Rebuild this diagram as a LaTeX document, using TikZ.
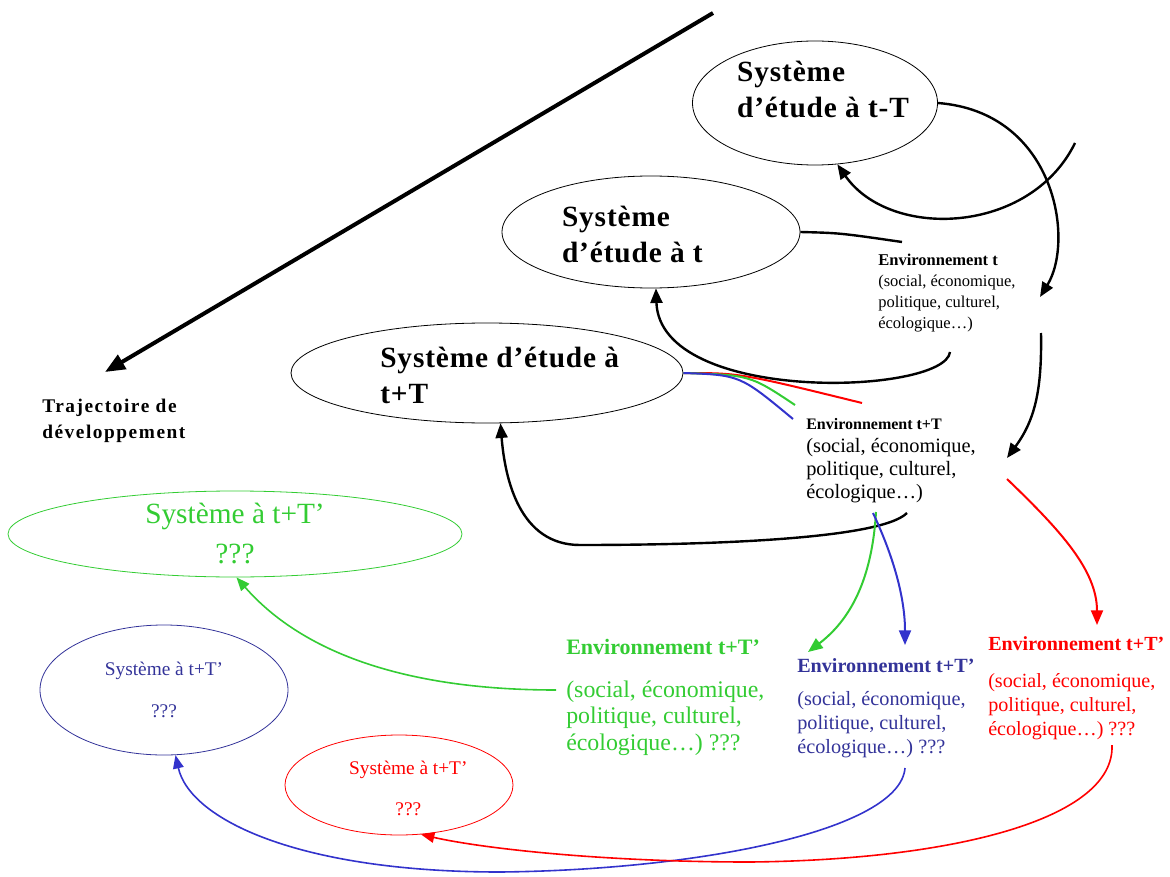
\documentclass[tikz,border=0pt]{standalone}
\usepackage{fontspec}
\setmainfont{Liberation Serif}
\newfontfamily\trajfont[LetterSpace=8]{Liberation Serif}
\newfontfamily\grandfont[LetterSpace=3]{Liberation Serif}
\usetikzlibrary{shapes.geometric, arrows.meta}

\definecolor{vert}{RGB}{51,204,51}
\definecolor{bleu}{RGB}{51,51,204}
\definecolor{marine}{RGB}{51,51,153}
\definecolor{rouge}{RGB}{255,0,0}

\newcommand{\bloc}[3]{\raisebox{#2}[0pt][0pt]{\makebox[0pt]{\hspace*{#1}\begin{tabular}{@{}l@{}}#3\end{tabular}}}}

\tikzset{
	systeme/.style={draw, ellipse, inner sep=0pt, line width=0.6pt},
	grand/.style={font=\fontsize{22}{27}\grandfont\bfseries},
	milieu/.style={inner sep=0pt, anchor=north west, align=left},
	fleche/.style={line width=1.8pt, -{Triangle[length=11pt, width=9pt]}},
	trait/.style={line width=1.8pt},
	branche/.style={line width=1.5pt, -{Triangle[length=11pt, width=9pt]}},
	retour/.style={line width=1.2pt, -{Triangle[length=10pt, width=8pt]}},
}

\begin{document}
\begin{tikzpicture}[x=0.75pt, y=-0.75pt]
	\useasboundingbox (0,0) rectangle (1170,877);

	\node[systeme, grand, minimum width=183.75pt, minimum height=93pt] (tmT) at (815,103) {\bloc{12pt}{3pt}{Système\\d’étude à t-T}};
	\node[systeme, grand, minimum width=223.5pt, minimum height=84pt] (t) at (651,232) {\bloc{-28pt}{-9pt}{Système\\d’étude à t}};
	\node[systeme, grand, minimum width=294pt, minimum height=75pt] (tT) at (487,373) {\bloc{19pt}{-9.4pt}{Système d’étude à\\t+T}};

	\node[systeme, draw=vert, text=vert, align=center, font=\fontsize{22}{30}\selectfont, minimum width=340.5pt, minimum height=58.5pt] (gT) at (235,534) {Système à t+T’\\???};
	\node[systeme, draw=marine, text=marine, align=center, font=\fontsize{14.5}{31}\selectfont, minimum width=186pt, minimum height=97.5pt] (bT) at (164,690) {Système à t+T’\\???};
	\node[systeme, draw=rouge, text=rouge, align=center, font=\fontsize{14.5}{31}\selectfont, minimum width=171pt, minimum height=75pt] (rT) at (399,785) {\bloc{14pt}{-5pt}{\hfil Système à t+T’\hfil\\\hfil???\hfil}};

	\node[milieu, font=\fontsize{14.5}{19.5}\selectfont\trajfont\bfseries] (traj) at (42,399) {Trajectoire de\\développement};

	\node[milieu, font=\fontsize{12.4}{15.75}\selectfont] (envt) at (878,254) {\textbf{Environnement t}\\(social, économique,\\politique, culturel,\\écologique…)};
	\node[milieu, font=\fontsize{15.3}{17.25}\selectfont] (envtT) at (806,418) {{\bfseries\fontsize{12}{15}\selectfont Environnement t+T}\\(social, économique,\\politique, culturel,\\écologique…)};

	\node[milieu, text=vert, font=\fontsize{17.9}{20}\selectfont] (envg) at (566,639) {{\bfseries\fontsize{16.5}{20}\selectfont Environnement t+T’}\\[12pt](social, économique,\\politique, culturel,\\écologique…) ???};
	\node[milieu, text=marine, font=\fontsize{15.2}{18}\selectfont] (envb) at (797,658) {{\bfseries\fontsize{15.1}{18}\selectfont Environnement t+T’}\\[7pt](social, économique,\\politique, culturel,\\écologique…) ???};
	\node[milieu, text=rouge, font=\fontsize{15.1}{18}\selectfont] (envr) at (988,636) {{\bfseries\fontsize{15}{18}\selectfont Environnement t+T’}\\[10pt](social, économique,\\politique, culturel,\\écologique…) ???};

	\coordinate (haut) at (713,13);
	\coordinate (bas) at (105,372);
	\coordinate (d1) at (1075,143);
	\coordinate (f1) at (1040,297);
	\coordinate (f2) at (902,242);
	\coordinate (d3) at (950,352);
	\coordinate (d4) at (1041,333);
	\coordinate (f4) at (1007,458);
	\coordinate (d5) at (907,513);
	\coordinate (fr) at (862,403);
	\coordinate (fg) at (795,405);
	\coordinate (fb) at (793,419);
	\coordinate (dg) at (876,512);
	\coordinate (db) at (873,513);
	\coordinate (dr) at (1007,479);
	\coordinate (ag) at (808,652);
	\coordinate (ab) at (905,645);
	\coordinate (ar) at (1097,625);
	\coordinate (dg2) at (556,690);
	\coordinate (db2) at (905,768);
	\coordinate (dr2) at (1112,745);

	\draw[line width=3pt, -{Triangle[length=15pt, width=12pt]}] (haut) -- (bas);

	\draw[fleche] (tmT.east) .. controls (1055,112) and (1075,240) .. (f1);
	\draw[fleche] (d1) .. controls (1030,235) and (890,240) .. (tmT.-70);
	\draw[trait] (t.east) .. controls (840,233) .. (f2);
	\draw[fleche] (d3) .. controls (945,395) and (660,405) .. (t.-85);
	\draw[fleche] (d4) .. controls (1042,390) and (1035,420) .. (f4);
	\draw[fleche] (d5) .. controls (880,540) and (700,545) .. (580,545) .. controls (520,545) and (505,480) .. (tT.-75);

	\draw[rouge, line width=1.5pt] (tT.east) .. controls (740,373) .. (fr);
	\draw[vert, line width=1.5pt] (tT.east) .. controls (750,375) .. (fg);
	\draw[bleu, line width=1.5pt] (tT.east) .. controls (740,375) .. (fb);

	\draw[branche, vert] (dg) .. controls (872,580) and (850,620) .. (ag);
	\draw[branche, bleu] (db) .. controls (895,560) and (905,600) .. (ab);
	\draw[branche, rouge] (dr) .. controls (1060,530) and (1097,570) .. (ar);

	\draw[retour, vert] (dg2) .. controls (400,690) and (300,650) .. (gT.-88);
	\draw[retour, bleu] (db2) .. controls (900,830) and (700,870) .. (500,872) .. controls (300,872) and (190,820) .. (bT.-80);
	\draw[retour, rouge] (dr2) .. controls (1115,820) and (950,860) .. (750,862) .. controls (600,862) and (480,848) .. (rT.-66);
\end{tikzpicture}
\end{document}
